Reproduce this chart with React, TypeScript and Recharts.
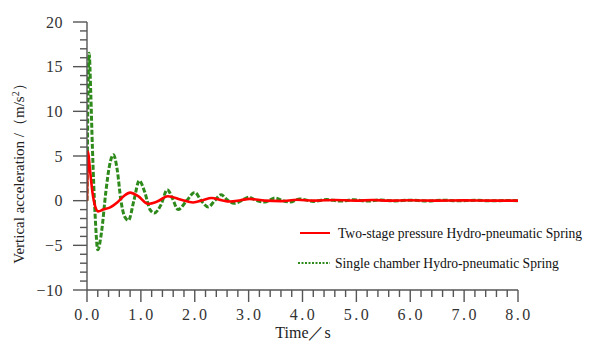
import React from "react";
import { LineChart, Line, XAxis, YAxis } from "recharts";

const seriesNames = [
  "Two-stage pressure Hydro-pneumatic Spring",
  "Single chamber Hydro-pneumatic Spring",
];

const redT = [0, 0.02, 0.05, 0.1, 0.15, 0.21, 0.3, 0.43, 0.56, 0.68, 0.8, 0.95, 1.13, 1.3, 1.5, 1.75, 1.97, 2.15, 2.31, 2.5, 2.65, 2.85, 3.02, 3.3, 3.6, 3.9, 4.2, 4.6, 5.0, 5.3, 5.6, 6.0, 6.5, 7.0, 7.5, 8.0];
const redV = [0, 5.5, 3.8, 1.0, -0.6, -1.2, -1.0, -0.75, -0.2, 0.5, 0.9, 0.5, -0.35, -0.1, 0.5, 0.1, -0.2, 0.05, 0.3, 0.05, -0.1, 0.05, 0.2, 0.0, -0.05, 0.1, 0.0, 0.08, 0.0, 0.07, 0.0, 0.05, 0.0, 0.03, 0.0, 0.0];

const greenT = [0, 0.015, 0.04, 0.07, 0.1, 0.15, 0.2, 0.27, 0.35, 0.42, 0.49, 0.56, 0.63, 0.7, 0.77, 0.87, 0.97, 1.07, 1.17, 1.25, 1.37, 1.49, 1.59, 1.69, 1.85, 2.0, 2.12, 2.25, 2.37, 2.49, 2.6, 2.73, 2.87, 3.0, 3.15, 3.3, 3.49, 3.63, 3.77, 3.95, 4.2, 4.45, 4.7, 4.95, 5.2, 5.45, 5.7, 6.0, 6.3, 6.6, 6.9, 7.2, 7.5, 7.8, 8.0];
const greenV = [0, 10, 16.5, 12, 6, -1.5, -5.5, -3.5, 1.0, 4.0, 5.15, 3.5, 0, -1.8, -2.2, 0.0, 2.24, 1.0, -1.0, -1.38, -0.5, 1.23, 0.2, -1.0, 0.0, 0.93, 0.0, -0.7, 0.0, 0.67, 0.1, -0.3, 0.0, 0.4, 0.0, -0.15, 0.3, 0.0, -0.15, 0.19, -0.08, 0.12, -0.05, 0.1, -0.05, 0.08, -0.03, 0.06, -0.03, 0.05, -0.02, 0.04, -0.02, 0.02, 0];

const xTicks = [0, 0.2, 0.4, 0.6, 0.8, 1, 1.2, 1.4, 1.6, 1.8, 2, 2.2, 2.4, 2.6, 2.8, 3, 3.2, 3.4, 3.6, 3.8, 4, 4.2, 4.4, 4.6, 4.8, 5, 5.2, 5.4, 5.6, 5.8, 6, 6.2, 6.4, 6.6, 6.8, 7, 7.2, 7.4, 7.6, 7.8, 8];
const yTicks = [-10, -9, -8, -7, -6, -5, -4, -3, -2, -1, 0, 1, 2, 3, 4, 5, 6, 7, 8, 9, 10, 11, 12, 13, 14, 15, 16, 17, 18, 19, 20];

const redData = redT.map((t, i) => ({ t, v: redV[i] }));
const greenData = greenT.map((t, i) => ({ t, v: greenV[i] }));

const AX = "#555";
const FONT = "Liberation Serif";
const fs = (size: number) => ({ fontFamily: FONT, fontSize: size });

const XTick = (props: any) => {
  const { x, y, payload } = props;
  const v = payload.value;
  const major = Math.abs(v - Math.round(v)) < 1e-6;
  return (
    <g>
      <line x1={x} y1={y} x2={x} y2={y + (major ? 12 : 7)} stroke={AX} strokeWidth={1.4} />
      {major && (
        <text x={x + 1} y={y + 30} textAnchor="middle" style={fs(16)} fill="#333" letterSpacing={2.5}>
          {v.toFixed(1)}
        </text>
      )}
    </g>
  );
};

const YTick = (props: any) => {
  const { x, y, payload } = props;
  const v = payload.value;
  const major = v % 5 === 0;
  return (
    <g>
      <line x1={x} y1={y} x2={x - (major ? 14 : 7)} y2={y} stroke={AX} strokeWidth={1.4} />
      {major && (
        <text x={x - 24} y={y + 5.5} textAnchor="end" style={fs(16)} fill="#333" letterSpacing={0.5}>
          {v < 0 ? "\u2212" + Math.abs(v) : String(v)}
        </text>
      )}
    </g>
  );
};

export default function App() {
  return (
    <div style={{ position: "absolute", left: 0, top: 0, width: 592, height: 343, background: "#fff" }}>
      <LineChart width={592} height={343} data={redData} margin={{ top: 22, right: 74, bottom: 23, left: 0 }}>
        <XAxis
          dataKey="t"
          type="number"
          domain={[0, 8]}
          ticks={xTicks}
          interval={0}
          tickSize={0}
          tickMargin={0}
          tickLine={false}
          tick={<XTick />}
          axisLine={{ stroke: AX, strokeWidth: 1.4 }}
          height={30}
          allowDataOverflow
        />
        <YAxis
          type="number"
          domain={[-10, 20]}
          ticks={yTicks}
          interval={0}
          tickSize={0}
          tickMargin={0}
          tickLine={false}
          tick={<YTick />}
          axisLine={{ stroke: AX, strokeWidth: 1.4 }}
          width={87}
          allowDataOverflow
        />
        <Line data={greenData} dataKey="v" type="monotone" stroke="#2f8a1c" strokeWidth={3} strokeDasharray="5 2" dot={false} isAnimationActive={false} />
        <Line data={redData} dataKey="v" type="monotone" stroke="#ff0000" strokeWidth={2.6} dot={false} isAnimationActive={false} />
      </LineChart>
      <div style={{ position: "absolute", left: 0, top: 0, width: 592, height: 343, pointerEvents: "none" }}>
        <svg width={592} height={343} style={{ position: "absolute", left: 0, top: 0 }}>
          <text transform="translate(24,170) rotate(-90)" textAnchor="middle" style={fs(15)} fill="#222">
            {"Vertical acceleration /（m/s"}
            <tspan dy={-5} style={{ fontSize: 10 }}>2</tspan>
            <tspan dy={5}>{"）"}</tspan>
          </text>
          <text x={303} y={338} textAnchor="middle" style={fs(16)} fill="#222">
            {"Time／s"}
          </text>
          <line x1={300} y1={233} x2={330} y2={233} stroke="#ff0000" strokeWidth={2} />
          <text x={338} y={237.5} style={fs(13.6)} fill="#111">{seriesNames[0]}</text>
          <line x1={298} y1={263} x2={330} y2={263} stroke="#2f8a1c" strokeWidth={2} strokeDasharray="2 1.5" />
          <text x={335} y={267.5} style={fs(13.6)} fill="#111">{seriesNames[1]}</text>
        </svg>
      </div>
    </div>
  );
}
